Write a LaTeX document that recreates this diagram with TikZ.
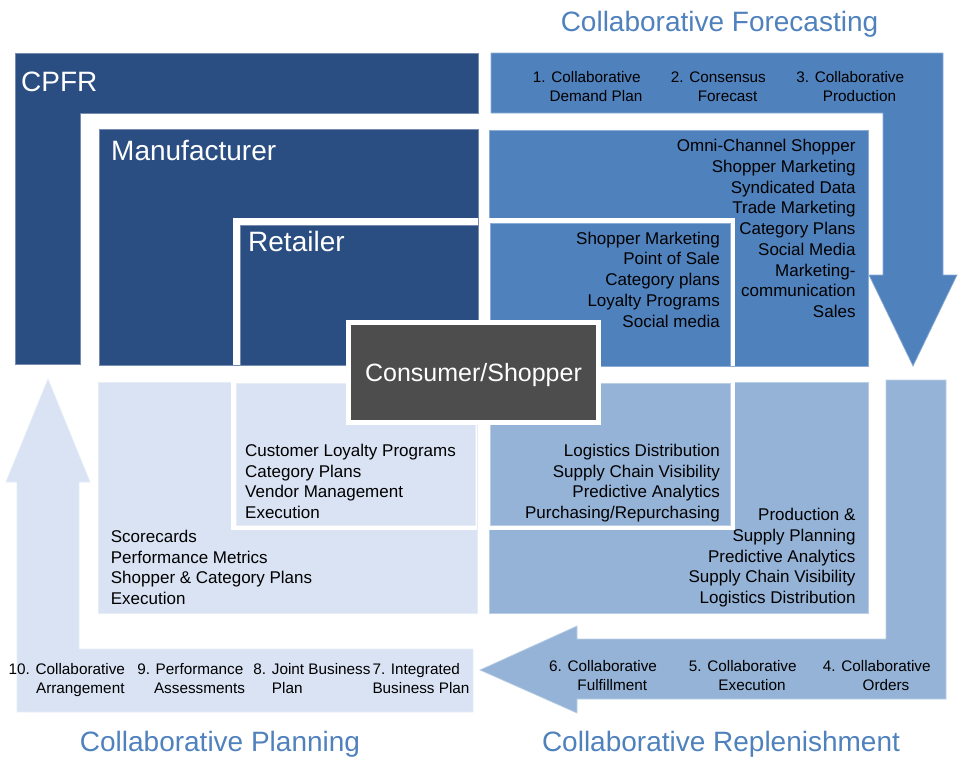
\documentclass[tikz,border=0pt]{standalone}
\usepackage{fontspec}
\setmainfont{Liberation Sans}
\usetikzlibrary{positioning}
\definecolor{cpfrdark}{HTML}{2B4E82}
\definecolor{cpfrmid}{HTML}{4F81BD}
\definecolor{cpfrsoft}{HTML}{95B3D7}
\definecolor{cpfrpale}{HTML}{D9E3F3}
\definecolor{cpfrgrey}{HTML}{4D4D4D}
\tikzset{
  quad/.style={fill=#1, draw=#1!65!white, line width=0.7pt},
  level/.style={font=\fontsize{28}{33}\selectfont, text=white, inner sep=0pt, anchor=north west},
  phase/.style={font=\fontsize{28}{33}\selectfont, text=cpfrmid, inner sep=0pt, anchor=base},
  stage/.style={font=\fontsize{15.3}{19}\selectfont, align=center, inner sep=0pt, anchor=north},
  stageleft/.style={font=\fontsize{15.3}{19}\selectfont, align=left, inner sep=0pt, anchor=north west},
  listr/.style={font=\fontsize{17}{20.7}\selectfont, align=right, inner sep=0pt, anchor=north east},
  listl/.style={font=\fontsize{17}{20.7}\selectfont, align=left, inner sep=0pt, anchor=north west},
  consumer/.style={rectangle, fill=cpfrgrey, draw=white, line width=5pt, minimum width=250pt, minimum height=100pt, text depth=0pt, text=white, font=\fontsize{25}{30}\selectfont},
}

\begin{document}
\begin{tikzpicture}[x=1pt,y=-1pt]
  \useasboundingbox (0,0) rectangle (958,758);
  % cycle arrows
  \path[quad=cpfrdark] (15,53) -- (478,53) -- (478,113) -- (80,113) -- (80,364) -- (15,364) -- cycle;
  \path[quad=cpfrmid] (491,53) -- (943,53) -- (943,275) -- (957,275) -- (913,366) -- (869,275) -- (883,275) -- (883,113) -- (491,113) -- cycle;
  \path[quad=cpfrsoft] (886,380) -- (946,380) -- (946,699) -- (577,699) -- (577,713) -- (480,670) -- (577,626) -- (577,639) -- (886,639) -- cycle;
  \path[quad=cpfrpale] (17,712) -- (473,712) -- (473,649) -- (79,649) -- (79,482) -- (90,482) -- (48,379) -- (6,482) -- (17,482) -- cycle;
  % manufacturer quadrants
  \path[quad=cpfrdark] (99,129) rectangle (478,365);
  \path[quad=cpfrmid] (489,130) rectangle (868,366);
  \path[quad=cpfrsoft] (489,382) rectangle (868,613);
  \path[quad=cpfrpale] (98,382) rectangle (477,613);
  % retailer quadrants with white frame
  \foreach \col/\xa/\ya/\xb/\yb/\xc/\yc/\xd/\yd in {
      cpfrdark/233/218/478/365/240/225/478/365,
      cpfrmid/489/218/735/366/490/223/730/366,
      cpfrsoft/489/382/735/530/490/383/730/525,
      cpfrpale/231/382/477/530/236/383/475/525} {
    \fill[white] (\xa,\ya) rectangle (\xb,\yb);
    \path[quad=\col] (\xc,\yc) rectangle (\xd,\yd);
  }
  % consumer
  \node[consumer] (shopper) at (473.5,372.5) {Consumer/Shopper};
  % levels
  \node[level] (cpfr) at (21,71.5) {CPFR};
  \node[level] (manu) at (111,140) {Manufacturer};
  \node[level] (reta) at (248,231) {Retailer};
  % phase titles
  \node[phase] (forecast) at (719.5,31) {Collaborative Forecasting};
  \node[phase] (planning) at (220,751) {Collaborative Planning};
  \node[phase] (replen) at (721,751) {Collaborative Replenishment};
  % stages
  \node[stage] (s1) at (596,71.5) {\llap{1. }Collaborative\\Demand Plan};
  \node[stage] (s2) at (727.6,71.5) {\llap{2. }Consensus\\Forecast};
  \node[stage] (s3) at (859.5,71.5) {\llap{3. }Collaborative\\Production};
  \node[stage] (s4) at (886,660) {\llap{4. }Collaborative\\Orders};
  \node[stage] (s5) at (752,660) {\llap{5. }Collaborative\\Execution};
  \node[stage] (s6) at (612.3,660) {\llap{6. }Collaborative\\Fulfillment};
  \node[stageleft] (s7) at (372.3,663.3) {7. Integrated\\Business Plan};
  \node[stageleft] (s8) at (271.7,663.3) {\llap{8. }Joint Business\\Plan};
  \node[stage] (s9) at (199.5,663.3) {\llap{9. }Performance\\Assessments};
  \node[stage] (s10) at (80.3,663.3) {\llap{10. }Collaborative\\Arrangement};
  % activity lists
  \node[listr] (manutr) at (855.7,139.3) {Omni-Channel Shopper\\Shopper Marketing\\Syndicated Data\\Trade Marketing\\Category Plans\\Social Media\\Marketing-\\communication\\Sales};
  \node[listr] (retatr) at (720,231.7) {Shopper Marketing\\Point of Sale\\Category plans\\Loyalty Programs\\Social media};
  \node[listl] (retabl) at (245,444) {Customer Loyalty Programs\\Category Plans\\Vendor Management\\Execution};
  \node[listl] (manubl) at (110.7,530) {Scorecards\\Performance Metrics\\Shopper \& Category Plans\\Execution};
  \node[listr] (retabr) at (720,444) {Logistics Distribution\\Supply Chain Visibility\\Predictive Analytics\\Purchasing/Repurchasing};
  \node[listr] (manubr) at (855.7,508.3) {Production \&\\Supply Planning\\Predictive Analytics\\Supply Chain Visibility\\Logistics Distribution};
\end{tikzpicture}
\end{document}
